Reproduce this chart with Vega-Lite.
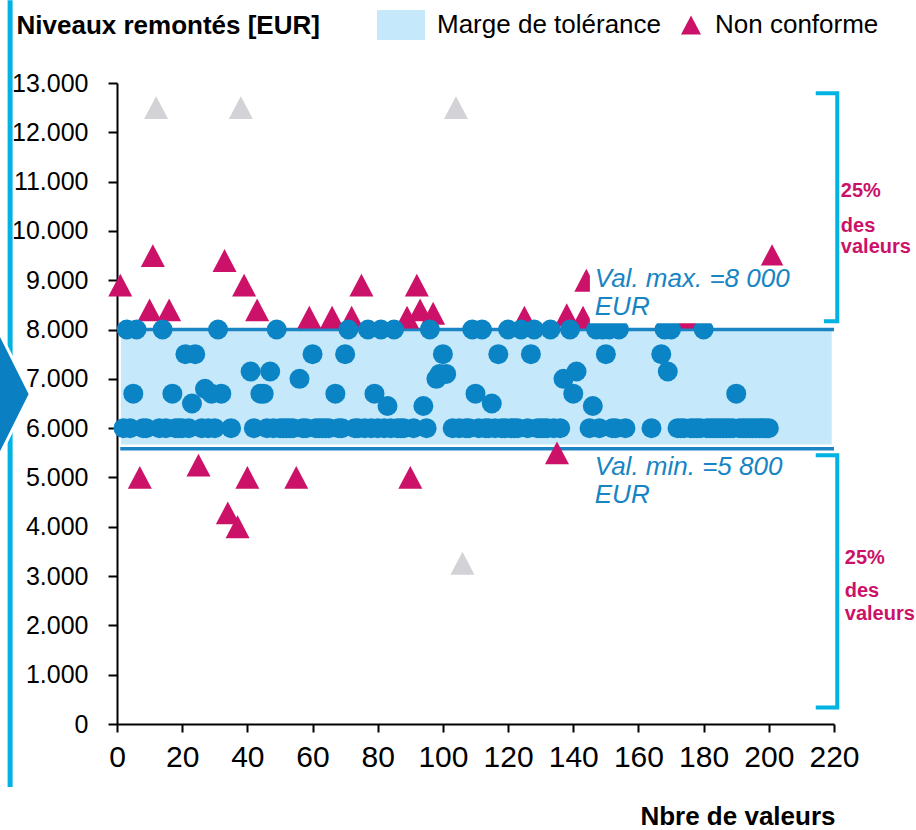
{
  "$schema": "https://vega.github.io/schema/vega-lite/v6.json",
  "width": 717,
  "height": 641,
  "autosize": {"type": "none"},
  "padding": {"left": 117, "top": 83, "right": 82, "bottom": 106},
  "background": "#ffffff",
  "config": {"view": {"stroke": null}, "font": "Liberation Sans"},
  "datasets": {
    "band": [{"x": 1.2, "x2": 219.3, "y": 5670, "y2": 8000}],
    "limits": [{"x": 1, "x2": 220, "y": 8000}, {"x": 1, "x2": 220, "y": 5580}],
    "ok": [
      {"x":2,"y":6000},{"x":4,"y":6000},{"x":8,"y":6000},{"x":9,"y":6000},{"x":13,"y":6000},{"x":15,"y":6000},{"x":18,"y":6000},{"x":19,"y":6000},{"x":20,"y":6000},{"x":22,"y":6000},{"x":26,"y":6000},{"x":28,"y":6000},{"x":30,"y":6000},{"x":35,"y":6000},{"x":42,"y":6000},{"x":46,"y":6000},{"x":48,"y":6000},{"x":50,"y":6000},{"x":51,"y":6000},{"x":52,"y":6000},{"x":53,"y":6000},{"x":54,"y":6000},{"x":57,"y":6000},{"x":58,"y":6000},{"x":61,"y":6000},{"x":62,"y":6000},{"x":63,"y":6000},{"x":64,"y":6000},{"x":65,"y":6000},{"x":68,"y":6000},{"x":69,"y":6000},{"x":73,"y":6000},{"x":74,"y":6000},{"x":76,"y":6000},{"x":78,"y":6000},{"x":80,"y":6000},{"x":82,"y":6000},{"x":84,"y":6000},{"x":86,"y":6000},{"x":87,"y":6000},{"x":88,"y":6000},{"x":91,"y":6000},{"x":95,"y":6000},{"x":103,"y":6000},{"x":105,"y":6000},{"x":107,"y":6000},{"x":108,"y":6000},{"x":111,"y":6000},{"x":113,"y":6000},{"x":114,"y":6000},{"x":116,"y":6000},{"x":118,"y":6000},{"x":119,"y":6000},{"x":121,"y":6000},{"x":122,"y":6000},{"x":123,"y":6000},{"x":126,"y":6000},{"x":129,"y":6000},{"x":130,"y":6000},{"x":131,"y":6000},{"x":132,"y":6000},{"x":134,"y":6000},{"x":136,"y":6000},{"x":145,"y":6000},{"x":148,"y":6000},{"x":152,"y":6000},{"x":153,"y":6000},{"x":156,"y":6000},{"x":164,"y":6000},{"x":172,"y":6000},{"x":173,"y":6000},{"x":174,"y":6000},{"x":176,"y":6000},{"x":177,"y":6000},{"x":178,"y":6000},{"x":179,"y":6000},{"x":181,"y":6000},{"x":182,"y":6000},{"x":183,"y":6000},{"x":184,"y":6000},{"x":185,"y":6000},{"x":186,"y":6000},{"x":187,"y":6000},{"x":188,"y":6000},{"x":189,"y":6000},{"x":191,"y":6000},{"x":192,"y":6000},{"x":193,"y":6000},{"x":194,"y":6000},{"x":195,"y":6000},{"x":196,"y":6000},{"x":197,"y":6000},{"x":198,"y":6000},{"x":199,"y":6000},{"x":200,"y":6000},
      {"x":3,"y":8000},{"x":6,"y":8000},{"x":14,"y":8000},{"x":31,"y":8000},{"x":49,"y":8000},{"x":71,"y":8000},{"x":77,"y":8000},{"x":81,"y":8000},{"x":85,"y":8000},{"x":96,"y":8000},{"x":109,"y":8000},{"x":112,"y":8000},{"x":120,"y":8000},{"x":124,"y":8000},{"x":128,"y":8000},{"x":133,"y":8000},{"x":139,"y":8000},{"x":147,"y":8000},{"x":149,"y":8000},{"x":151,"y":8000},{"x":154,"y":8000},{"x":168,"y":8000},{"x":170,"y":8000},{"x":180,"y":8000},
      {"x":5,"y":6700},{"x":17,"y":6700},{"x":21,"y":7500},{"x":23,"y":6500},{"x":24,"y":7500},{"x":27,"y":6800},{"x":29,"y":6700},{"x":32,"y":6700},{"x":41,"y":7150},{"x":44,"y":6700},{"x":45,"y":6700},{"x":47,"y":7150},{"x":56,"y":7000},{"x":60,"y":7500},{"x":67,"y":6700},{"x":70,"y":7500},{"x":79,"y":6700},{"x":83,"y":6450},{"x":94,"y":6450},{"x":98,"y":7000},{"x":99,"y":7100},{"x":100,"y":7500},{"x":101,"y":7100},{"x":110,"y":6700},{"x":115,"y":6500},{"x":117,"y":7500},{"x":127,"y":7500},{"x":137,"y":7000},{"x":140,"y":6700},{"x":141,"y":7150},{"x":146,"y":6450},{"x":150,"y":7500},{"x":167,"y":7500},{"x":169,"y":7150},{"x":190,"y":6700}
    ],
    "nc": [
      {"x":1,"y":8900},{"x":7,"y":5000},{"x":10,"y":8400},{"x":11,"y":9500},{"x":16,"y":8400},{"x":25,"y":5250},{"x":33,"y":9400},{"x":34,"y":4280},{"x":37,"y":4000},{"x":39,"y":8900},{"x":40,"y":5000},{"x":43,"y":8400},{"x":55,"y":5000},{"x":59,"y":8250},{"x":66,"y":8250},{"x":72,"y":8250},{"x":75,"y":8900},{"x":89,"y":8250},{"x":90,"y":5000},{"x":92,"y":8900},{"x":93,"y":8400},{"x":97,"y":8330},{"x":125,"y":8250},{"x":135,"y":5500},{"x":138,"y":8300},{"x":143,"y":8250},{"x":144,"y":9000},{"x":175,"y":8250},{"x":201,"y":9500}
    ],
    "gray": [{"x":12,"y":12500},{"x":38,"y":12500},{"x":104,"y":12500},{"x":106,"y":3260}],
    "box": [{"x": 145.1, "x2": 217.2, "y": 8130, "y2": 9300}],
    "notes": [{"x": 146.6, "y": 8860, "t": "Val. max. =8 000\nEUR"}, {"x": 146.6, "y": 5050, "t": "Val. min. =5 800\nEUR"}],
    "pct": [
      {"x": 222.1, "y": 10680, "t": "25%"}, {"x": 222.1, "y": 9970, "t": "des"}, {"x": 222.1, "y": 9550, "t": "valeurs"},
      {"x": 223.3, "y": 3240, "t": "25%"}, {"x": 223.3, "y": 2570, "t": "des"}, {"x": 223.3, "y": 2110, "t": "valeurs"}
    ],
    "brackets": [
      {"b": "t", "o": 1, "x": 214.4, "y": 12790}, {"b": "t", "o": 2, "x": 221.0, "y": 12790}, {"b": "t", "o": 3, "x": 221.0, "y": 8170}, {"b": "t", "o": 4, "x": 216.9, "y": 8170},
      {"b": "b", "o": 1, "x": 214.4, "y": 5450}, {"b": "b", "o": 2, "x": 221.0, "y": 5450}, {"b": "b", "o": 3, "x": 221.0, "y": 335}, {"b": "b", "o": 4, "x": 214.4, "y": 335}
    ],
    "frame": [{"x": -32.8, "y": 14680, "y2": -1280}],
    "arrow": [{"x": -31.6, "y": 6690}]
  },
  "encoding": {
    "x": {
      "field": "x", "type": "quantitative",
      "scale": {"domain": [0, 220], "nice": false, "zero": false},
      "axis": {
        "values": [0, 20, 40, 60, 80, 100, 120, 140, 160, 180, 200, 220],
        "grid": false, "title": "Nbre de valeurs",
        "titleFontSize": 26, "titleFontWeight": "bold", "titleColor": "#000000",
        "titleAlign": "right", "titleBaseline": "alphabetic", "titleX": 718, "titleY": 100,
        "labelFontSize": 30, "labelColor": "#000000", "labelPadding": 10, "labelOverlap": false, "labelFlush": false,
        "tickSize": 8, "tickWidth": 2, "tickColor": "#000000",
        "domainColor": "#000000", "domainWidth": 2
      }
    },
    "y": {
      "field": "y", "type": "quantitative",
      "scale": {"domain": [0, 13000], "nice": false, "zero": false},
      "axis": {
        "values": [0, 1000, 2000, 3000, 4000, 5000, 6000, 7000, 8000, 9000, 10000, 11000, 12000, 13000],
        "labelExpr": "replace(format(datum.value, ','), ',', '.')",
        "grid": false, "title": "Niveaux remontés [EUR]",
        "titleFontSize": 26, "titleFontWeight": "bold", "titleColor": "#000000",
        "titleAngle": 0, "titleAlign": "left", "titleBaseline": "alphabetic", "titleX": -101, "titleY": -50,
        "labelFontSize": 25, "labelColor": "#000000", "labelPadding": 20, "labelOverlap": false,
        "tickSize": 9, "tickWidth": 2, "tickColor": "#000000",
        "domainColor": "#000000", "domainWidth": 2
      }
    }
  },
  "layer": [
    {
      "data": {"name": "band"},
      "mark": {"type": "rect"},
      "encoding": {
        "x2": {"field": "x2"}, "y2": {"field": "y2"},
        "fill": {
          "datum": "Marge de tolérance", "type": "nominal",
          "scale": {"range": ["#c5e9fb"]},
          "legend": {
            "orient": "none", "legendX": 260, "legendY": -82, "title": null, "padding": 0,
            "symbolType": "M -1 -0.625 L 1 -0.625 L 1 0.625 L -1 0.625 Z", "symbolSize": 2304,
            "symbolStrokeWidth": 0, "symbolOpacity": 1,
            "labelFontSize": 26, "labelOffset": 12, "labelColor": "#000000", "labelLimit": 400
          }
        }
      }
    },
    {
      "data": {"name": "limits"},
      "mark": {"type": "rule", "color": "#1a84c4", "strokeWidth": 3.5},
      "encoding": {"x2": {"field": "x2"}}
    },
    {
      "data": {"name": "gray"},
      "mark": {"type": "point", "filled": true, "opacity": 1, "color": "#d2d2d7", "size": 576, "shape": "M 0 -0.95 L 1 0.95 L -1 0.95 Z"}
    },
    {
      "data": {"name": "nc"},
      "mark": {"type": "point", "filled": true, "opacity": 1, "color": "#cc1168", "size": 576},
      "encoding": {
        "shape": {
          "datum": "Non conforme", "type": "nominal",
          "scale": {"range": ["M 0 -0.95 L 1 0.95 L -1 0.95 Z"]},
          "legend": {
            "orient": "none", "legendX": 561, "legendY": -71, "title": null, "padding": 0,
            "symbolSize": 400, "symbolFillColor": "#cc1168", "symbolStrokeWidth": 0, "symbolOpacity": 1,
            "labelFontSize": 26, "labelOffset": 11, "labelColor": "#000000", "labelLimit": 400
          }
        }
      }
    },
    {
      "data": {"name": "ok"},
      "mark": {"type": "point", "shape": "circle", "filled": true, "opacity": 1, "color": "#0b84c5", "size": 400}
    },
    {
      "data": {"name": "box"},
      "mark": {"type": "rect", "color": "#ffffff"},
      "encoding": {"x2": {"field": "x2"}, "y2": {"field": "y2"}}
    },
    {
      "data": {"name": "notes"},
      "mark": {"type": "text", "align": "left", "baseline": "alphabetic", "fontSize": 26, "fontStyle": "italic", "color": "#1784c4", "lineBreak": "\n", "lineHeight": 28},
      "encoding": {"text": {"field": "t"}}
    },
    {
      "data": {"name": "pct"},
      "mark": {"type": "text", "align": "left", "baseline": "alphabetic", "fontSize": 20, "fontWeight": "bold", "color": "#cc1168"},
      "encoding": {"text": {"field": "t"}}
    },
    {
      "data": {"name": "brackets"},
      "mark": {"type": "line", "color": "#00b3e3", "strokeWidth": 4, "strokeJoin": "miter", "strokeCap": "butt"},
      "encoding": {"detail": {"field": "b"}, "order": {"field": "o"}}
    },
    {
      "data": {"name": "frame"},
      "mark": {"type": "rule", "color": "#00b3e3", "strokeWidth": 5},
      "encoding": {"y2": {"field": "y2"}}
    },
    {
      "data": {"name": "arrow"},
      "mark": {"type": "point", "filled": true, "opacity": 1, "fill": "#0a7fc2", "stroke": "#ffffff", "strokeWidth": 3, "size": 16900, "shape": "M -0.25 -1 L 0.25 0 L -0.25 1 Z"}
    }
  ]
}
